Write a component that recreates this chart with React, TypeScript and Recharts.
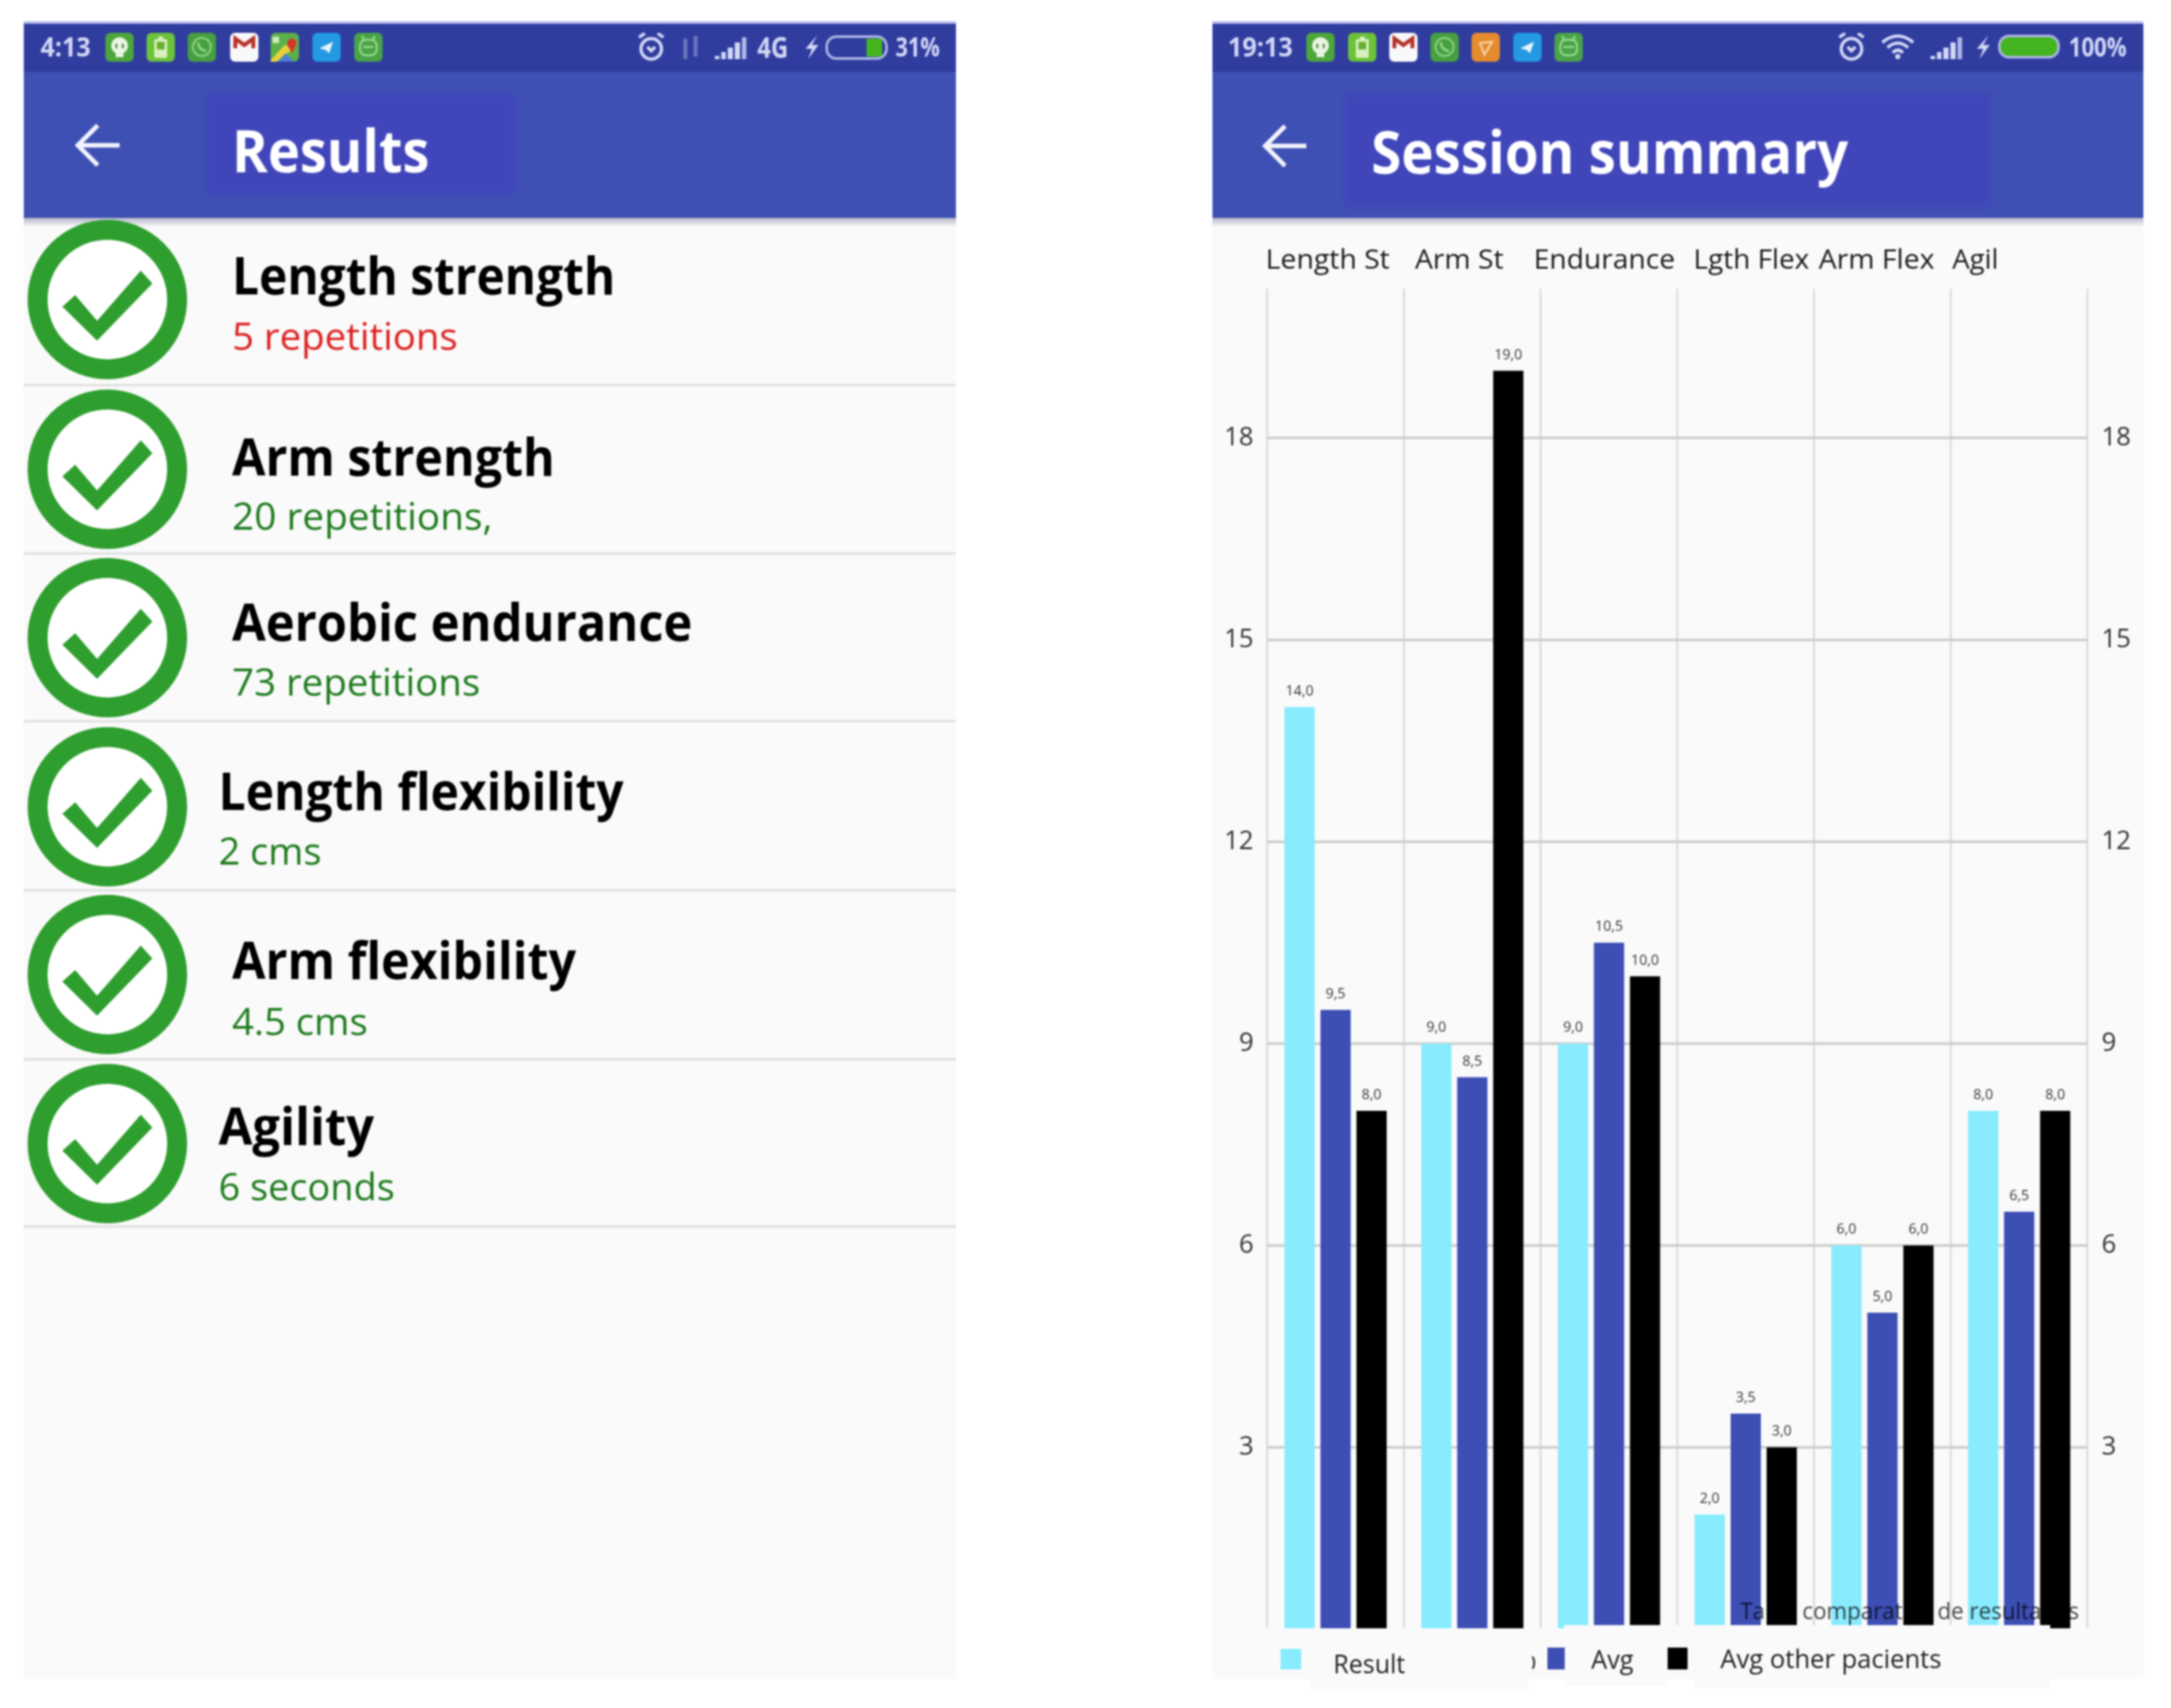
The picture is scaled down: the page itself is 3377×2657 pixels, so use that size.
import React from 'react';
import { BarChart, Bar, XAxis, YAxis, CartesianGrid, Legend, LabelList } from 'recharts';

const categories = ['Length St', 'Arm St', 'Endurance', 'Lgth Flex', 'Arm Flex', 'Agil'];
const resultValues = [14, 9, 9, 2, 6, 8];
const avgValues = [9.5, 8.5, 10.5, 3.5, 5, 6.5];
const otherValues = [8, 19, 10, 3, 6, 8];
const yTicks = [3, 6, 9, 12, 15, 18];
const seriesNames = ['Result', 'Avg', 'Avg other pacients'];
const seriesColors = ['#88EBFE', '#3D4EB4', '#000000'];
const chartData = categories.map((name, i) => ({
  name,
  result: resultValues[i],
  avg: avgValues[i],
  other: otherValues[i],
}));

const topTickNudges = [-12, -20, -7, 9, -9, -68];
const topTickWidths = [193, 138, 220, 180, 180, 72];
const legendSwatches = [
  { x: 106, w: 32, y: 32, h: 32 },
  { x: 521, w: 27, y: 30, h: 34 },
  { x: 708, w: 31, y: 30, h: 34 },
];
const legendTexts = [
  { x: 188, w: 112, y: 70 },
  { x: 589, w: 66, y: 63 },
  { x: 790, w: 344, y: 62 },
];

const itemTitles = ['Length strength', 'Arm strength', 'Aerobic endurance', 'Length flexibility', 'Arm flexibility', 'Agility'];
const itemSubs = ['5 repetitions', '20 repetitions,', '73 repetitions', '2 cms', '4.5 cms', '6 seconds'];
const itemX = [361, 361, 361, 340, 361, 340];
const itemTitleW = [596, 502, 716, 630, 535, 242];
const itemSubW = [351, 405, 386, 160, 211, 274];
const itemTitleY = [458, 740, 997, 1260, 1523, 1781];
const itemSubY = [544, 824, 1082, 1345, 1610, 1867];
const itemCircleY = [466, 730, 992, 1255, 1516, 1779];
const itemLineY = [599, 861, 1122, 1385, 1648, 1908];

const FONT = '"Open Sans", sans-serif';
const STATUS_TEXT = '#D3D8F6';

const Icon = ({ kind, cx }: { kind: string; cx: number }) => {
  const x = cx - 23;
  const y = 51;
  const bg: Record<string, string> = {
    line: '#4DA63C', bat: '#6CC23A', wa: '#46A040', gmail: '#F9F8FA', maps: '#5CB04A', tg: '#2299E2', android: '#4AA348', orange: '#E68A2E',
  };
  return (
    <g>
      <rect x={x + 1} y={y} width={44} height={45} rx={8} fill={bg[kind]} />
      {kind === 'line' && (
        <g>
          <circle cx={cx} cy={y + 20} r={13} fill="#EAF6E2" />
          <path d={`M${cx - 6} ${y + 30} V${y + 38} H${cx + 6} V${y + 30} Z`} fill="#EAF6E2" />
          <path d={`M${cx - 5} ${y + 17} v7 M${cx + 5} ${y + 17} v7`} stroke="#5B7F4F" strokeWidth={3} />
        </g>
      )}
      {kind === 'bat' && (
        <g>
          <rect x={cx - 10} y={y + 10} width={20} height={29} rx={2} fill="#D9F0BE" />
          <rect x={cx - 6} y={y + 14} width={12} height={12} fill="#66B030" />
          <rect x={cx - 4} y={y + 6} width={8} height={5} fill="#D9F0BE" />
        </g>
      )}
      {kind === 'wa' && (
        <g fill="none" stroke="#8FD084">
          <circle cx={cx} cy={y + 22} r={14} strokeWidth={3} />
          <path d={`M${cx - 6} ${y + 15} Q${cx - 4} ${y + 28} ${cx + 7} ${y + 28}`} strokeWidth={4} />
        </g>
      )}
      {kind === 'gmail' && (
        <path d={`M${cx - 14} ${y + 24} V${y + 9} L${cx} ${y + 19} L${cx + 14} ${y + 9} V${y + 24}`} fill="none" stroke="#B8322A" strokeWidth={6} />
      )}
      {kind === 'maps' && (
        <g>
          <path d={`M${x + 1} ${y + 42} L${x + 24} ${y + 18} L${x + 33} ${y + 27} L${x + 10} ${y + 45} H${x + 1} Z`} fill="#E8D23A" />
          <path d={`M${x + 12} ${y + 45} L${x + 24} ${y + 32} L${x + 38} ${y + 45} Z`} fill="#4A7FD8" />
          <rect x={x + 4} y={y + 6} width={10} height={10} fill="#CFE8BE" />
          <circle cx={x + 34} cy={y + 16} r={7} fill="#D9332B" />
          <path d={`M${x + 28} ${y + 20} L${x + 34} ${y + 32} L${x + 40} ${y + 20} Z`} fill="#D9332B" />
        </g>
      )}
      {kind === 'tg' && <path d={`M${cx - 11} ${y + 24} L${cx + 10} ${y + 14} L${cx + 4} ${y + 32} L${cx - 1} ${y + 27} Z`} fill="#EAF5FD" />}
      {kind === 'android' && (
        <g fill="none" stroke="#9BDB8E" strokeWidth={3}>
          <rect x={cx - 13} y={y + 11} width={26} height={24} rx={9} />
          <path d={`M${cx - 7} ${y + 11} L${cx - 10} ${y + 5} M${cx + 7} ${y + 11} L${cx + 10} ${y + 5} M${cx - 8} ${y + 22} H${cx + 8}`} />
        </g>
      )}
      {kind === 'orange' && <path d={`M${cx - 9} ${y + 16} L${cx + 10} ${y + 14} L${cx - 2} ${y + 34} Z`} fill="none" stroke="#F8D7A8" strokeWidth={3} />}
    </g>
  );
};

const Txt = ({ x, y, w, size, fill, weight = 400, children }: any) => (
  <text x={x} y={y} textLength={w} lengthAdjust="spacingAndGlyphs" fontFamily={FONT} fontSize={size} fontWeight={weight} fill={fill}>
    {children}
  </text>
);

const Alarm = ({ cx }: { cx: number }) => (
  <g fill="none" stroke="#D3D8F6" strokeWidth={5}>
    <circle cx={cx} cy={76} r={16} />
    <path d={`M${cx - 19} 58 L${cx - 10} 52 M${cx + 19} 58 L${cx + 10} 52 M${cx - 6} 73 L${cx} 79 L${cx + 6} 73`} />
  </g>
);
const Signal = ({ x }: { x: number }) => (
  <g fill="#D3D8F6">
    <rect x={x} y={87} width={7} height={5} />
    <rect x={x + 10} y={81} width={7} height={11} />
    <rect x={x + 20} y={74} width={8} height={18} />
    <rect x={x + 31} y={66} width={8} height={26} />
    <rect x={x + 42} y={58} width={7} height={34} fill="#AEB6E6" />
  </g>
);
const Bolt = ({ cx }: { cx: number }) => (
  <path d={`M${cx + 8} 55 L${cx - 10} 76 H${cx} L${cx - 6} 92 L${cx + 10} 70 H${cx} Z`} fill={STATUS_TEXT} />
);

const Back = ({ x0, x1, y }: { x0: number; x1: number; y: number }) => (
  <path d={`M${x1} ${y} H${x0 + 3} M${x0 + 32} ${y - 31} L${x0 + 1} ${y} L${x0 + 32} ${y + 31}`} fill="none" stroke="#F2F3FB" strokeWidth={7} />
);

const PanelBase = ({ x, w, patch }: { x: number; w: number; patch: [number, number, number, number] }) => (
  <g>
    <rect x={x} y={33} width={w} height={2579} fill="#FAFAFA" />
    <rect x={x} y={33} width={w} height={306} fill="#3F50B4" />
    <rect x={x} y={33} width={w} height={4} fill="#B7BCEC" />
    <rect x={x} y={37} width={w} height={75} fill="#303D9F" />
    <rect x={patch[0]} y={patch[1]} width={patch[2]} height={patch[3]} fill="#4046BA" style={{ filter: 'blur(6px)' }} />
    <rect x={x} y={339} width={w} height={14} fill="url(#shadow)" />
  </g>
);

const Background = () => (
  <svg width={3377} height={2657} style={{ position: 'absolute', left: 0, top: 0 }}>
    <defs>
      <linearGradient id="shadow" x1="0" y1="0" x2="0" y2="1">
        <stop offset="0" stopColor="#B4B6C8" />
        <stop offset="1" stopColor="#FAFAFA" />
      </linearGradient>
    </defs>
    <rect x={0} y={0} width={3377} height={2657} fill="#FFFFFF" />

    <PanelBase x={37} w={1450} patch={[321, 143, 480, 161]} />
    {itemLineY.map((y) => (
      <rect key={y} x={37} y={y - 2} width={1450} height={4} fill="#E2E2E2" />
    ))}
    {itemCircleY.map((cy) => (
      <g key={cy}>
        <circle cx={167} cy={cy} r={108.5} fill="#FFFFFF" stroke="#2E9E2E" strokeWidth={31} />
        <polygon
          points={`${167 - 70},${cy + 11} ${167 - 50},${cy - 7} ${167 - 16},${cy + 33} ${167 + 52},${cy - 45} ${167 + 70},${cy - 25} ${167 - 16},${cy + 64}`}
          fill="#2E9E2E"
        />
      </g>
    ))}
    {itemTitles.map((t, i) => (
      <Txt key={t} x={itemX[i]} y={itemTitleY[i]} w={itemTitleW[i]} size={80} weight={700} fill="#000000">{t}</Txt>
    ))}
    {itemSubs.map((t, i) => (
      <Txt key={t} x={itemX[i]} y={itemSubY[i]} w={itemSubW[i]} size={58} fill={i === 0 ? '#DC2020' : '#1C7A1C'}>{t}</Txt>
    ))}
    <Txt x={63} y={88} w={78} size={42} weight={700} fill={STATUS_TEXT}>4:13</Txt>
    {[['line', 186], ['bat', 250], ['wa', 314], ['gmail', 380], ['maps', 443], ['tg', 508], ['android', 573]].map(([k, cx]) => (
      <Icon key={k as string} kind={k as string} cx={cx as number} />
    ))}
    <Alarm cx={1013} />
    <path d="M1066 60 V92 M1082 56 V88" stroke="#6A75BE" strokeWidth={6} />
    <Signal x={1112} />
    <Txt x={1178} y={90} w={48} size={44} weight={700} fill={STATUS_TEXT}>4G</Txt>
    <Bolt cx={1263} />
    <rect x={1286} y={57} width={93} height={34} rx={15} fill="none" stroke="#AEB6EA" strokeWidth={4} />
    <rect x={1348} y={60} width={24} height={28} fill="#45B51F" />
    <Txt x={1393} y={88} w={69} size={42} weight={700} fill={STATUS_TEXT}>31%</Txt>
    <Back x0={120} x1={186} y={226} />
    <Txt x={361} y={268} w={307} size={91} weight={700} fill="#FFFFFF">Results</Txt>

    <PanelBase x={1886} w={1448} patch={[2090, 145, 1007, 178]} />
    <rect x={2036} y={2590} width={342} height={40} fill="#FAFAFA" />
    <rect x={2434} y={2590} width={160} height={33} fill="#FAFAFA" />
    <rect x={2636} y={2590} width={553} height={35} fill="#FAFAFA" />
    <Txt x={1910} y={88} w={101} size={42} weight={700} fill={STATUS_TEXT}>19:13</Txt>
    {[['line', 2054], ['bat', 2119], ['gmail', 2183], ['wa', 2247], ['orange', 2311], ['tg', 2376], ['android', 2440]].map(([k, cx]) => (
      <Icon key={k as string} kind={k as string} cx={cx as number} />
    ))}
    <Alarm cx={2880} />
    <g fill="none" stroke={STATUS_TEXT} strokeWidth={5}>
      <path d="M2928 66 Q2952 46 2976 66" />
      <path d="M2936 74 Q2952 60 2968 74" />
      <path d="M2944 82 Q2952 74 2960 82" />
    </g>
    <circle cx={2952} cy={88} r={4} fill={STATUS_TEXT} />
    <Signal x={3003} />
    <Bolt cx={3085} />
    <rect x={3110} y={56} width={92} height={33} rx={15} fill="#45B51F" stroke="#AEB6EA" strokeWidth={4} />
    <Txt x={3218} y={88} w={90} size={42} weight={700} fill={STATUS_TEXT}>100%</Txt>
    <Back x0={1967} x1={2032} y={227} />
    <Txt x={2133} y={270} w={742} size={91} weight={700} fill="#FFFFFF">Session summary</Txt>
  </svg>
);

const TopTick = ({ x, y, payload, index }: any) => (
  <text
    x={x + topTickNudges[index]}
    y={y - 23}
    textAnchor="middle"
    textLength={topTickWidths[index]}
    lengthAdjust="spacingAndGlyphs"
    fontFamily={FONT}
    fontSize={42}
    fill="#1A1A1A"
  >
    {payload.value}
  </text>
);

const ChartLegend = ({ payload }: any) => (
  <svg width={1448} height={124} style={{ display: 'block' }}>
    <path d="M498 44 Q503 54 498 63" fill="none" stroke="#333" strokeWidth={3} />
    {(payload || []).map((p: any) => {
      const i = seriesNames.indexOf(p.value);
      return (
        <g key={p.value}>
          <rect x={legendSwatches[i].x} y={legendSwatches[i].y} width={legendSwatches[i].w} height={legendSwatches[i].h} fill={p.color} />
          <text x={legendTexts[i].x} y={legendTexts[i].y} textLength={legendTexts[i].w} lengthAdjust="spacingAndGlyphs" fontFamily={FONT} fontSize={40} fill="#222">
            {p.value}
          </text>
        </g>
      );
    })}
  </svg>
);

const barLabel = (v: any) => Number(v).toFixed(1).replace('.', ',');
const labelStyle = { fontFamily: FONT, fontSize: 22, fill: '#333333' };
const axisTick = { fontFamily: FONT, fontSize: 40, fill: '#333333', dy: -3 };
const yDomain: [number, number] = [0.31, 20.22];

const Session = () => (
  <div style={{ position: 'absolute', left: 1886, top: 340 }}>
    <BarChart
      width={1448}
      height={2317}
      data={chartData}
      margin={{ top: 9, right: 0, bottom: 0, left: 0 }}
      barSize={47}
      barGap={9}
    >
      <CartesianGrid
        yAxisId="left"
        stroke="#DADADA"
        strokeWidth={3}
        horizontal={false}
        verticalCoordinatesGenerator={({ offset }: any) =>
          categories.map((_, i) => offset.left + (i * offset.width) / categories.length).concat(offset.left + offset.width)
        }
      />
      <CartesianGrid
        yAxisId="left"
        stroke="#CBCBCB"
        strokeWidth={4}
        vertical={false}
        horizontalCoordinatesGenerator={({ offset }: any) =>
          yTicks.map((t) => offset.top + (offset.height * (yDomain[1] - t)) / (yDomain[1] - yDomain[0]))
        }
      />
      <XAxis
        dataKey="name"
        orientation="top"
        height={100}
        axisLine={false}
        tickLine={false}
        interval={0}
        tick={<TopTick />}
      />
      <YAxis
        yAxisId="left"
        width={85}
        domain={yDomain}
        allowDataOverflow
        ticks={yTicks}
        axisLine={false}
        tickLine={false}
        tickSize={0}
        tickMargin={21}
        tick={axisTick}
      />
      <YAxis
        yAxisId="right"
        orientation="right"
        width={87}
        domain={yDomain}
        allowDataOverflow
        ticks={yTicks}
        axisLine={false}
        tickLine={false}
        tickSize={0}
        tickMargin={22}
        tick={axisTick}
      />
      <Legend
        verticalAlign="bottom"
        align="left"
        wrapperStyle={{ width: 1448, height: 124, left: 0, bottom: 0 }}
        content={<ChartLegend />}
      />
      <Bar yAxisId="left" dataKey="result" name={seriesNames[0]} fill={seriesColors[0]} isAnimationActive={false}>
        <LabelList dataKey="result" position="top" offset={18} formatter={barLabel} style={labelStyle} />
      </Bar>
      <Bar yAxisId="left" dataKey="avg" name={seriesNames[1]} fill={seriesColors[1]} isAnimationActive={false}>
        <LabelList dataKey="avg" position="top" offset={18} formatter={barLabel} style={labelStyle} />
      </Bar>
      <Bar yAxisId="left" dataKey="other" name={seriesNames[2]} fill={seriesColors[2]} isAnimationActive={false}>
        <LabelList dataKey="other" position="top" offset={18} formatter={barLabel} style={labelStyle} />
      </Bar>
    </BarChart>
  </div>
);

const Overlay = () => (
  <svg width={3377} height={2657} style={{ position: 'absolute', left: 0, top: 0, pointerEvents: 'none' }}>
    <rect x={2433} y={2528} width={756} height={12} fill="#FAFAFA" />
    <text
      x={2707}
      y={2519}
      textLength={527}
      lengthAdjust="spacingAndGlyphs"
      fontFamily={FONT}
      fontSize={37}
      fill="#000000"
      fillOpacity={0.72}
    >
      Tabla comparativa de resultados
    </text>
  </svg>
);

export default function App() {
  return (
    <div style={{ position: 'absolute', left: 0, top: 0, width: 3377, height: 2657, overflow: 'hidden', filter: 'blur(1.4px)' }}>
      <Background />
      <Session />
      <Overlay />
    </div>
  );
}
